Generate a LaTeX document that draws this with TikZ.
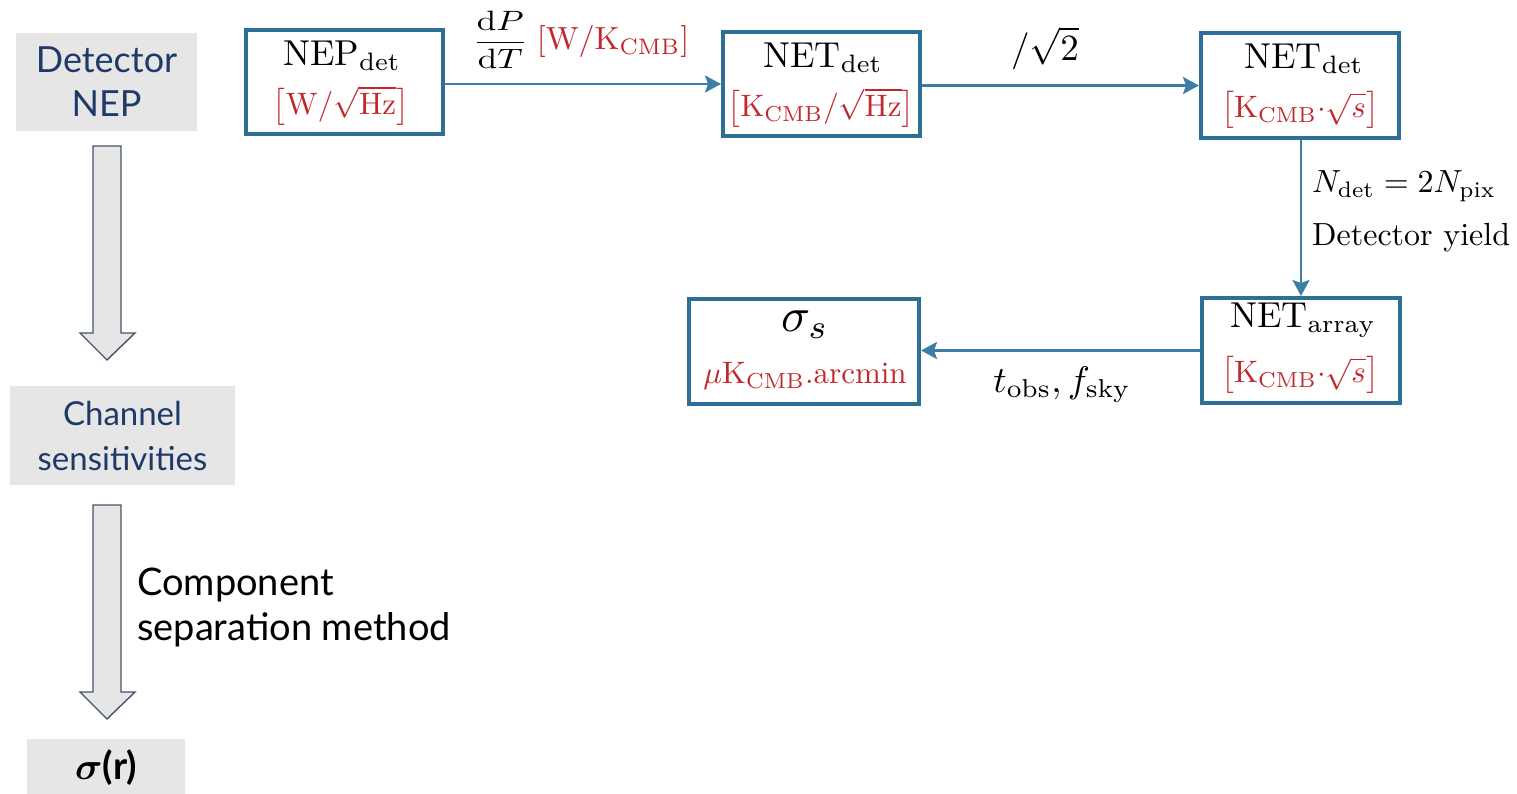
\RequirePackage{fix-cm}
\documentclass[tikz,border=0pt]{standalone}
\usepackage{fontspec}
\usepackage{amsmath}
\usepackage{bm}
\usepackage{graphicx}
\newfontfamily\gillfont{Lato}
\usetikzlibrary{arrows.meta}
\definecolor{boxblue}{HTML}{2E6F95}
\definecolor{flowblue}{HTML}{3D7EA6}
\definecolor{unitred}{HTML}{C1272D}
\definecolor{panelgrey}{HTML}{E7E6E6}
\definecolor{navytext}{HTML}{1F3A68}
\definecolor{hollowedge}{HTML}{44546A}
% formulas are set at 10pt and enlarged, so they keep the 10pt design
\newcommand\TitleTxt[1]{\scalebox{3.6}{#1}}
\newcommand\UnitTxt[1]{\scalebox{3.1}{\color{unitred}#1}}
\newcommand\LabelTxt[1]{\scalebox{3.2}{#1}}
\newcommand\BigLabelTxt[1]{\scalebox{3.7}{#1}}
\tikzset{
  quantity/.style={draw=boxblue, line width=4pt, rectangle, inner sep=0pt},
  flow/.style={draw=flowblue, line width=2.6pt,
    -{Stealth[length=16pt,width=17pt,inset=3pt]}},
  stage/.style={fill=panelgrey, rectangle, inner sep=0pt, text=navytext,
    font=\gillfont\fontsize{36}{44}\selectfont, align=center},
  hollow/.style={fill=panelgrey, draw=hollowedge, line width=1.4pt, line join=miter},
  txt/.style={inner sep=0pt, font=\fontsize{10}{12}\selectfont},
}
\begin{document}
\begin{tikzpicture}[x=1pt,y=-1pt]
\useasboundingbox (0,0) rectangle (1517,794);

% ---- left column: overall pipeline ----
\node[stage, minimum width=181pt, minimum height=98pt] (nep) at (106.5,82) {Detector\\NEP};
\node[stage, minimum width=225pt, minimum height=99pt, font=\gillfont\fontsize{33}{45}\selectfont]
  (chan) at (122.5,435.5) {Channel\\sensitivities};
\node[stage, minimum width=158pt, minimum height=58pt, text=black,
  font=\gillfont\fontsize{38}{44}\selectfont] (sigr) at (106,768)
  {\bfseries $\bm{\sigma}$(r)};

\draw[hollow] (93,146) -- (121,146) -- (121,333) -- (135,333) -- (107,360)
  -- (80,333) -- (93,333) -- cycle;
\draw[hollow] (93,505) -- (121,505) -- (121,692) -- (135,692) -- (107,719)
  -- (80,692) -- (93,692) -- cycle;
\node[anchor=west, align=left, inner sep=0pt,
  font=\gillfont\fontsize{38}{45}\selectfont] (compsep) at (137,607)
  {Component\\separation method};

% ---- right part: detector to map noise ----
\node[quantity, minimum width=197pt, minimum height=104pt] (b1) at (344.5,82) {};
\node[quantity, minimum width=197pt, minimum height=104pt] (b2) at (821.5,84) {};
\node[quantity, minimum width=198pt, minimum height=105pt] (b3) at (1300,85.5) {};
\node[quantity, minimum width=198pt, minimum height=105pt] (b4) at (1301,350.5) {};
\node[quantity, minimum width=230pt, minimum height=105pt] (b5) at (804,351.5) {};

\node[txt] (t1) at (342,56) {\TitleTxt{$\mathrm{NEP}_{\mathrm{det}}$}};
\node[txt] (u1) at (341,106) {\UnitTxt{$\bigl[\mathrm{W}/\sqrt{\mathrm{Hz}}\bigr]$}};
\node[txt] (t2) at (823,58) {\TitleTxt{$\mathrm{NET}_{\mathrm{det}}$}};
\node[txt] (u2) at (821,108) {\UnitTxt{$\bigl[\mathrm{K}_{\mathrm{CMB}}/\sqrt{\mathrm{Hz}}\bigr]$}};
\node[txt] (t3) at (1304,59) {\TitleTxt{$\mathrm{NET}_{\mathrm{det}}$}};
\node[txt] (u3) at (1300,110) {\UnitTxt{$\bigl[\mathrm{K}_{\mathrm{CMB}}{\cdot}\sqrt{s}\bigr]$}};
\node[txt] (t4) at (1303,320) {\TitleTxt{$\mathrm{NET}_{\mathrm{array}}$}};
\node[txt] (u4) at (1300,375) {\UnitTxt{$\bigl[\mathrm{K}_{\mathrm{CMB}}{\cdot}\sqrt{s}\bigr]$}};
\node[txt] (t5) at (805,325) {\scalebox{4.8}{$\sigma_s$}};
\node[txt] (u5) at (805,376) {\UnitTxt{$\mu\mathrm{K}_{\mathrm{CMB}}.\mathrm{arcmin}$}};

\draw[flow] (b1.east |- b2.west) -- (b2.west);
\draw[flow] (b2.east |- b3.west) -- (b3.west);
\draw[flow] (b3.south -| b4.north) -- (b4.north);
\draw[flow] (b4.west) -- (b5.east |- b4.west);

\node[txt] (l12) at (581,40)
  {\scalebox{3.5}[2.8]{$\dfrac{\mathrm{d}P}{\mathrm{d}T}$}\hspace{9pt}%
   \scalebox{3.2}{\color{unitred}$[\mathrm{W}/\mathrm{K}_{\mathrm{CMB}}]$}};
\node[txt] (l23) at (1045,48) {\BigLabelTxt{$/\sqrt{2}$}};
\node[txt, anchor=west] (l34a) at (1312,186) {\LabelTxt{$N_{\mathrm{det}}=2N_{\mathrm{pix}}$}};
\node[txt, anchor=west] (l34b) at (1312,238) {\LabelTxt{Detector yield}};
\node[txt] (l45) at (1062,385) {\BigLabelTxt{$t_{\mathrm{obs}},f_{\mathrm{sky}}$}};
\end{tikzpicture}
\end{document}
